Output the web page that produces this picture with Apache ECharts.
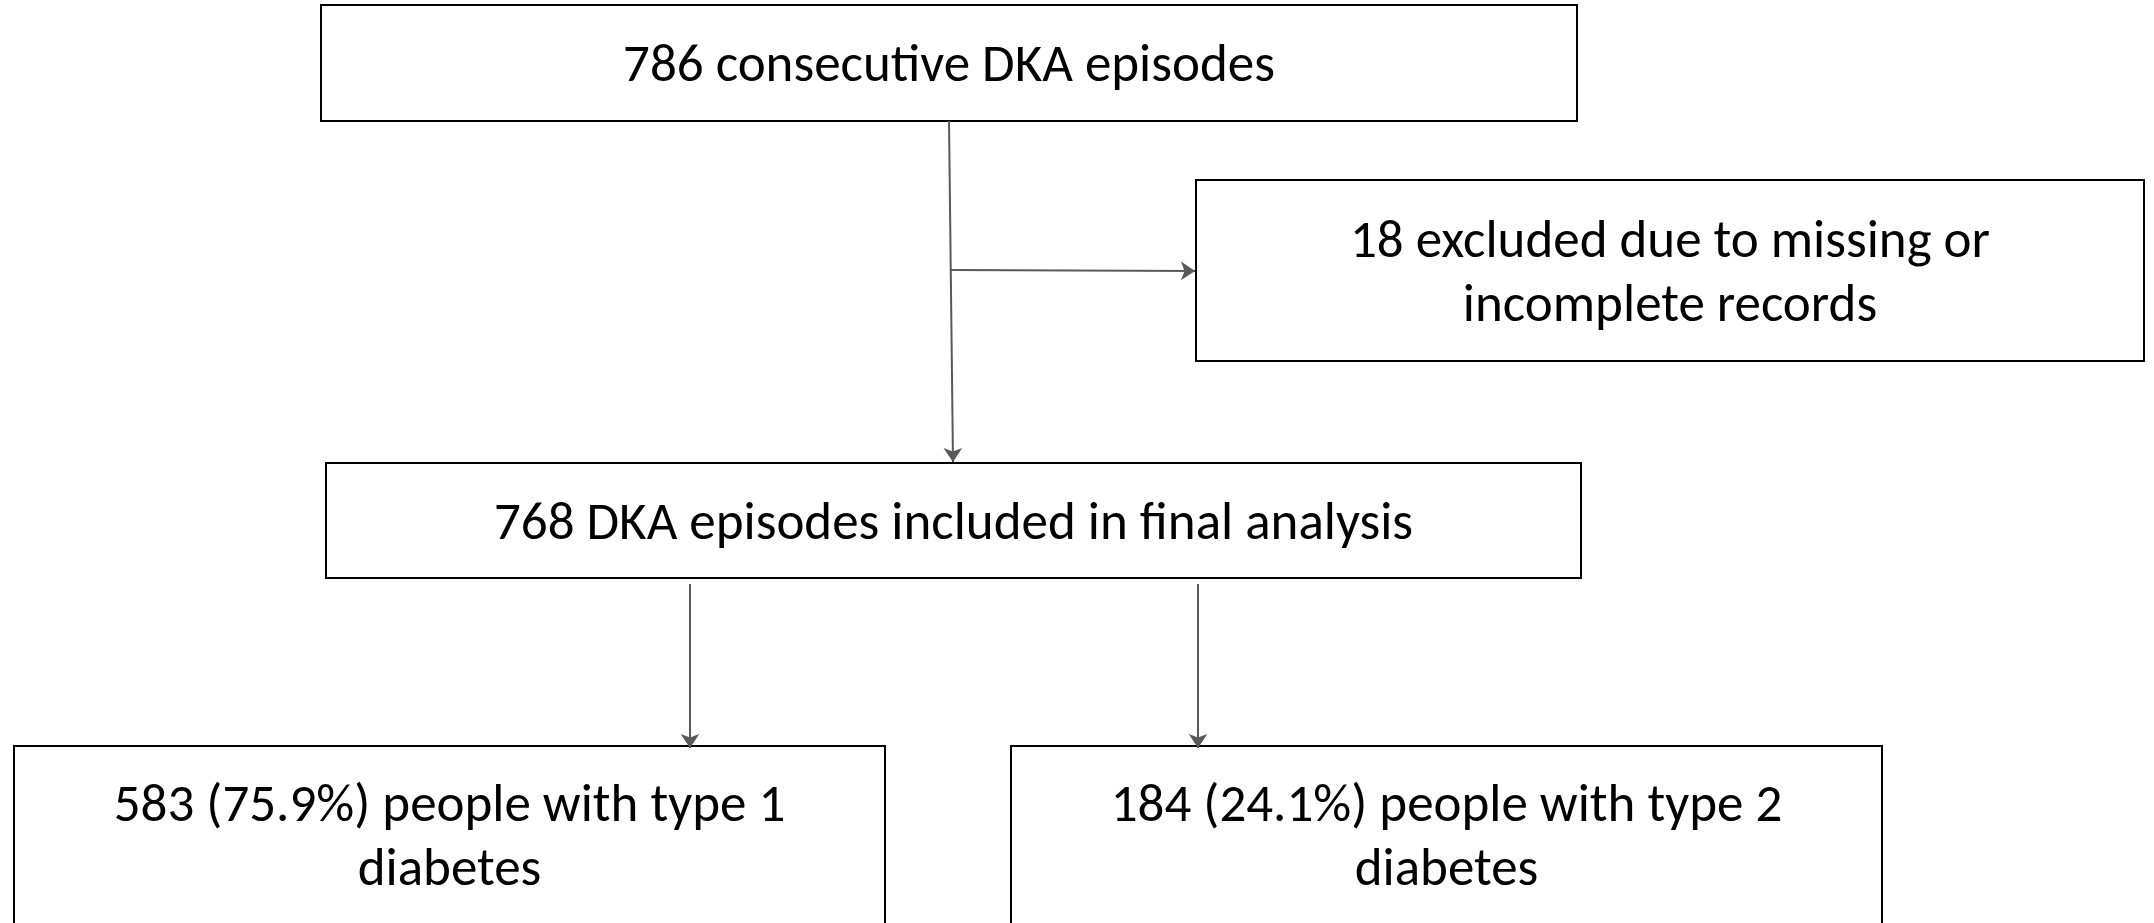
<!DOCTYPE html>
<html>
<head>
<meta charset="utf-8">
<script src="https://cdn.jsdelivr.net/npm/echarts@6/dist/echarts.min.js"></script>
<style>
  html, body { margin: 0; padding: 0; background: #fff; }
  #main { width: 2154px; height: 923px; }
</style>
</head>
<body>
<div id="main"></div>
<script>
var chart = echarts.init(document.getElementById("main"));

// flowchart boxes (page units, y grows downward)
var boxText = [
    "786 consecutive DKA episodes",
    "18 excluded due to missing or\nincomplete records",
    "768 DKA episodes included in final analysis",
    "583 (75.9%) people with type 1\ndiabetes",
    "184 (24.1%) people with type 2\ndiabetes"
];
var boxLeft = [321, 1196, 326, 14, 1011];
var boxRight = [1577, 2144, 1581, 885, 1882];
var boxTop = [5, 180, 463, 746, 746];
var boxBottom = [121, 361, 578, 945, 945];

// connectors
var arrowFrom = [[949, 121], [951, 270], [690, 584], [1198, 584]];
var arrowTo = [[953, 462], [1195, 271], [690, 748], [1198, 748]];

var boxData = [];
for (var i = 0; i < boxText.length; i++) {
    boxData.push([boxLeft[i], boxTop[i], boxRight[i], boxBottom[i], boxText[i]]);
}
var arrowData = [];
for (var k = 0; k < arrowFrom.length; k++) {
    arrowData.push({ coords: [arrowFrom[k], arrowTo[k]] });
}

var font = "Carlito, Calibri, 'Liberation Sans Narrow', 'Open Sans', sans-serif";

var option = {
    animation: false,
    grid: { left: 0, right: 0, top: 0, bottom: 0 },
    xAxis: { type: 'value', min: 0, max: 2154, show: false },
    yAxis: { type: 'value', min: 0, max: 923, inverse: true, show: false },
    series: [
        {
            type: 'custom',
            coordinateSystem: 'cartesian2d',
            renderItem: function (params, api) {
                var p0 = api.coord([api.value(0), api.value(1)]);
                var p1 = api.coord([api.value(2), api.value(3)]);
                var ch = params.coordSys.y + params.coordSys.height;
                return {
                    type: 'group',
                    children: [
                        {
                            type: 'rect',
                            shape: { x: p0[0], y: p0[1], width: p1[0] - p0[0], height: p1[1] - p0[1] },
                            style: { fill: '#fff', stroke: '#000', lineWidth: 2 }
                        },
                        {
                            type: 'text',
                            x: (p0[0] + p1[0]) / 2,
                            y: (p0[1] + Math.min(p1[1], ch)) / 2 + 5,
                            style: {
                                text: boxData[params.dataIndex][4],
                                fill: '#000',
                                font: '53px ' + font,
                                lineHeight: 64,
                                align: 'center',
                                verticalAlign: 'middle'
                            }
                        }
                    ]
                };
            },
            data: boxData
        },
        {
            type: 'lines',
            coordinateSystem: 'cartesian2d',
            symbol: ['none', 'arrow'],
            symbolSize: 14,
            lineStyle: { color: '#595959', width: 2, opacity: 1 },
            data: arrowData,
            z: 3
        }
    ]
};
chart.setOption(option);
</script>
</body>
</html>
